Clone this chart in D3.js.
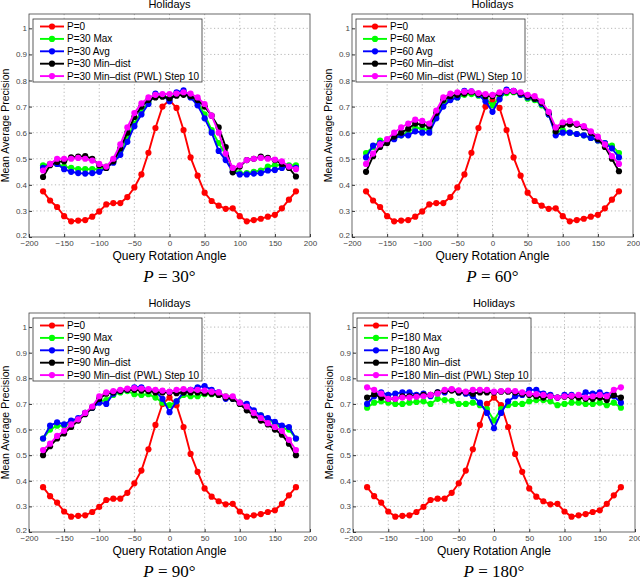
<!DOCTYPE html>
<html>
<head>
<meta charset="utf-8">
<script src="https://d3js.org/d3.v7.min.js"></script>
<style>
  body { margin: 0; background: #fff; }
  svg { display: block; }
</style>
</head>
<body>
<svg id="chart" width="640" height="578" font-family='"Liberation Sans", Arial, sans-serif'></svg>
<script>
/* ---------- data ---------- */
const angles = d3.range(-180, 181, 10);

const p0 = [0.375,0.34,0.315,0.28,0.26,0.263,0.265,0.278,0.298,0.325,0.33,0.33,0.353,0.39,0.44,0.523,0.618,0.70,0.725,0.695,0.61,0.505,0.435,0.37,0.338,0.32,0.308,0.31,0.28,0.26,0.265,0.27,0.278,0.285,0.31,0.343,0.375];

// P=30
const p30Max = [0.475,0.48,0.48,0.47,0.465,0.46,0.46,0.46,0.46,0.47,0.49,0.53,0.58,0.635,0.68,0.715,0.745,0.745,0.73,0.75,0.755,0.738,0.715,0.67,0.61,0.56,0.515,0.46,0.445,0.445,0.45,0.455,0.47,0.475,0.475,0.475,0.475];
const p30Avg = [0.465,0.478,0.48,0.46,0.45,0.445,0.443,0.445,0.45,0.465,0.485,0.515,0.565,0.625,0.67,0.71,0.75,0.745,0.72,0.755,0.762,0.735,0.705,0.655,0.6,0.53,0.495,0.45,0.44,0.44,0.443,0.445,0.455,0.457,0.465,0.47,0.465];
const p30Min = [0.43,0.475,0.488,0.49,0.505,0.508,0.51,0.50,0.475,0.465,0.49,0.54,0.6,0.66,0.70,0.725,0.735,0.738,0.732,0.742,0.745,0.74,0.725,0.70,0.665,0.62,0.545,0.448,0.47,0.495,0.5,0.508,0.503,0.495,0.48,0.465,0.432];
const p30Pwl = [0.455,0.48,0.5,0.5,0.5,0.503,0.5,0.493,0.48,0.47,0.5,0.555,0.62,0.675,0.712,0.735,0.745,0.748,0.748,0.75,0.755,0.75,0.735,0.71,0.665,0.6,0.52,0.465,0.475,0.495,0.5,0.503,0.5,0.497,0.49,0.47,0.46];

// P=60
const p60Max = [0.522,0.545,0.57,0.565,0.58,0.59,0.6,0.62,0.615,0.61,0.665,0.71,0.73,0.735,0.745,0.748,0.742,0.73,0.705,0.735,0.752,0.755,0.745,0.73,0.725,0.705,0.67,0.6,0.61,0.6,0.595,0.59,0.58,0.57,0.56,0.55,0.522];
const p60Avg = [0.505,0.55,0.56,0.565,0.575,0.59,0.59,0.605,0.6,0.6,0.655,0.70,0.725,0.735,0.76,0.758,0.745,0.72,0.68,0.728,0.765,0.76,0.745,0.735,0.73,0.71,0.67,0.59,0.6,0.6,0.595,0.59,0.58,0.57,0.56,0.54,0.505];
const p60Min = [0.45,0.51,0.545,0.56,0.585,0.6,0.615,0.635,0.63,0.625,0.675,0.725,0.74,0.745,0.75,0.755,0.748,0.74,0.74,0.75,0.758,0.758,0.75,0.74,0.73,0.715,0.675,0.605,0.63,0.632,0.63,0.62,0.6,0.575,0.545,0.5,0.452];
const p60Pwl = [0.48,0.52,0.555,0.575,0.6,0.62,0.635,0.65,0.645,0.635,0.685,0.735,0.75,0.755,0.757,0.758,0.752,0.748,0.745,0.755,0.76,0.76,0.755,0.745,0.74,0.72,0.68,0.62,0.64,0.645,0.635,0.625,0.605,0.585,0.555,0.51,0.48];

// P=90
const p90Max = [0.565,0.6,0.615,0.615,0.625,0.64,0.665,0.685,0.71,0.715,0.735,0.745,0.75,0.738,0.735,0.738,0.725,0.705,0.695,0.71,0.735,0.73,0.73,0.738,0.738,0.735,0.73,0.72,0.705,0.69,0.67,0.655,0.64,0.625,0.605,0.6,0.565];
const p90Avg = [0.565,0.615,0.628,0.62,0.635,0.645,0.665,0.685,0.705,0.70,0.74,0.75,0.755,0.765,0.765,0.755,0.75,0.72,0.668,0.71,0.745,0.755,0.765,0.77,0.755,0.745,0.72,0.72,0.705,0.7,0.675,0.655,0.645,0.63,0.615,0.61,0.565];
const p90Min = [0.5,0.535,0.565,0.585,0.61,0.635,0.66,0.685,0.72,0.74,0.745,0.75,0.755,0.755,0.752,0.75,0.745,0.745,0.745,0.742,0.745,0.745,0.745,0.742,0.74,0.735,0.725,0.72,0.7,0.675,0.655,0.635,0.62,0.6,0.58,0.545,0.5];
const p90Pwl = [0.52,0.545,0.575,0.595,0.62,0.64,0.665,0.69,0.73,0.745,0.75,0.755,0.76,0.762,0.76,0.758,0.755,0.752,0.748,0.755,0.758,0.755,0.755,0.752,0.748,0.745,0.73,0.73,0.705,0.69,0.665,0.645,0.625,0.61,0.595,0.56,0.52];

// P=180
const p180Max = [0.685,0.705,0.71,0.705,0.70,0.70,0.705,0.708,0.71,0.70,0.72,0.715,0.712,0.70,0.70,0.705,0.695,0.68,0.635,0.68,0.695,0.70,0.70,0.71,0.715,0.715,0.71,0.695,0.70,0.705,0.705,0.70,0.70,0.705,0.695,0.705,0.685];
const p180Avg = [0.70,0.73,0.745,0.735,0.74,0.745,0.745,0.735,0.74,0.73,0.745,0.745,0.755,0.745,0.74,0.73,0.705,0.665,0.605,0.665,0.71,0.73,0.735,0.755,0.755,0.74,0.735,0.725,0.735,0.735,0.73,0.745,0.74,0.745,0.735,0.73,0.705];
const p180Min = [0.725,0.738,0.725,0.72,0.72,0.73,0.73,0.73,0.735,0.735,0.745,0.75,0.752,0.745,0.745,0.74,0.745,0.745,0.745,0.748,0.748,0.745,0.74,0.735,0.73,0.725,0.73,0.725,0.728,0.728,0.725,0.72,0.72,0.725,0.715,0.735,0.725];
const p180Pwl = [0.765,0.755,0.74,0.72,0.72,0.725,0.725,0.728,0.73,0.735,0.74,0.755,0.758,0.753,0.748,0.755,0.755,0.755,0.748,0.75,0.752,0.75,0.745,0.74,0.738,0.735,0.73,0.725,0.73,0.732,0.735,0.725,0.73,0.735,0.73,0.755,0.765];

const xTicks = d3.range(-200, 201, 50);
const yTicks = d3.range(2, 11).map(d => d / 10);
const seriesColors = ['#ff0000', '#00ff00', '#0000ff', '#000000', '#ff00ff'];

const panels = [
  { p: 30,  series: [p0, p30Max, p30Avg, p30Min, p30Pwl],     box: { l: 29,  r: 310, t: 14,  b: 237 } },
  { p: 60,  series: [p0, p60Max, p60Avg, p60Min, p60Pwl],     box: { l: 352, r: 633, t: 14,  b: 237 } },
  { p: 90,  series: [p0, p90Max, p90Avg, p90Min, p90Pwl],     box: { l: 29,  r: 310, t: 313, b: 532 } },
  { p: 180, series: [p0, p180Max, p180Avg, p180Min, p180Pwl], box: { l: 353, r: 635, t: 313, b: 532 } },
];

/* ---------- draw ---------- */
const svg = d3.select('#chart');
panels.forEach(drawPanel);

function legendLabels(p) {
  return ['P=0', `P=${p} Max`, `P=${p} Avg`, `P=${p} Min\u2013dist`, `P=${p} Min\u2013dist (PWL) Step 10`];
}

function drawPanel(pn) {
  const b = pn.box;
  const g = svg.append('g');
  const x = d3.scaleLinear().domain([-200, 200]).range([b.l, b.r]);
  const y = d3.scaleLinear().domain([0.2, 1.055]).range([b.b, b.t]);
  const fmt = d => d < 0 ? '\u2212' + Math.abs(d) : String(d);

  // grid
  g.append('g').selectAll('line').data(xTicks.slice(1, -1)).join('line')
    .attr('x1', d => x(d)).attr('x2', d => x(d)).attr('y1', b.t).attr('y2', b.b)
    .attr('stroke', '#999').attr('stroke-width', 0.7).attr('stroke-dasharray', '1.2,2.5');
  g.append('g').selectAll('line').data(yTicks.slice(1)).join('line')
    .attr('x1', b.l).attr('x2', b.r).attr('y1', d => y(d)).attr('y2', d => y(d))
    .attr('stroke', '#999').attr('stroke-width', 0.7).attr('stroke-dasharray', '1.2,2.5');

  // axes
  const xAx = g.append('g').attr('transform', `translate(0,${b.b})`)
    .call(d3.axisBottom(x).tickValues(xTicks).tickSize(-3).tickPadding(3).tickFormat(fmt));
  const yAx = g.append('g').attr('transform', `translate(${b.l},0)`)
    .call(d3.axisLeft(y).tickValues(yTicks).tickSize(-3).tickPadding(2).tickFormat(d3.format('~g')));
  [xAx, yAx].forEach(a => {
    a.select('.domain').remove();
    a.selectAll('line').attr('stroke', '#333');
    a.selectAll('text').attr('font-size', 8).attr('fill', '#444')
      .attr('font-family', '"Liberation Sans", Arial, sans-serif');
  });
  yAx.selectAll('.tick').filter(d => d === 0.2).select('text').attr('dy', '0.1em');
  g.append('rect').attr('x', b.l).attr('y', b.t).attr('width', b.r - b.l).attr('height', b.b - b.t)
    .attr('fill', 'none').attr('stroke', '#444').attr('stroke-width', 0.8);

  // lines
  const line = d3.line().x((d, i) => x(angles[i])).y(d => y(d));
  pn.series.forEach((s, k) => {
    const sg = g.append('g');
    sg.append('path').datum(s).attr('d', line)
      .attr('fill', 'none').attr('stroke', seriesColors[k]).attr('stroke-width', 1.9);
    sg.selectAll('circle').data(s).join('circle')
      .attr('cx', (d, i) => x(angles[i])).attr('cy', d => y(d)).attr('r', 3.1)
      .attr('fill', seriesColors[k]);
  });

  // legend
  const labels = legendLabels(pn.p);
  const lx = b.l + 4, ly = b.t + 5;
  const lw = pn.p === 180 ? 174 : 169, lh = 63;
  const lg = g.append('g');
  lg.append('rect').attr('x', lx).attr('y', ly).attr('width', lw).attr('height', lh)
    .attr('fill', '#fff').attr('stroke', '#333').attr('stroke-width', 0.8);
  labels.forEach((t, k) => {
    const yy = ly + 7.5 + k * 12.4;
    lg.append('line').attr('x1', lx + 7).attr('x2', lx + 31).attr('y1', yy).attr('y2', yy)
      .attr('stroke', seriesColors[k]).attr('stroke-width', 1.9);
    lg.append('circle').attr('cx', lx + 19).attr('cy', yy).attr('r', 3.1).attr('fill', seriesColors[k]);
    lg.append('text').attr('x', lx + 34).attr('y', yy + 3.5).attr('font-size', 10).text(t);
  });

  // titles
  const cx = (b.l + b.r) / 2;
  g.append('text').attr('x', cx).attr('y', b.t - 6).attr('text-anchor', 'middle')
    .attr('font-size', 11).text('Holidays');
  g.append('text').attr('x', cx).attr('y', b.b + 23).attr('text-anchor', 'middle')
    .attr('font-size', 12).text('Query Rotation Angle');
  g.append('text').attr('transform', `translate(${b.l - 20},${(b.t + b.b) / 2}) rotate(-90)`)
    .attr('text-anchor', 'middle').attr('font-size', 10.5).text('Mean Average Precision');

  // caption
  const cap = g.append('text').attr('x', cx).attr('y', b.b + 45).attr('text-anchor', 'middle')
    .attr('font-family', '"Liberation Serif", "DejaVu Serif", serif').attr('font-size', 17);
  cap.append('tspan').attr('font-style', 'italic').text('P');
  cap.append('tspan').text(` = ${pn.p}\u00B0`);
}
</script>
</body>
</html>
